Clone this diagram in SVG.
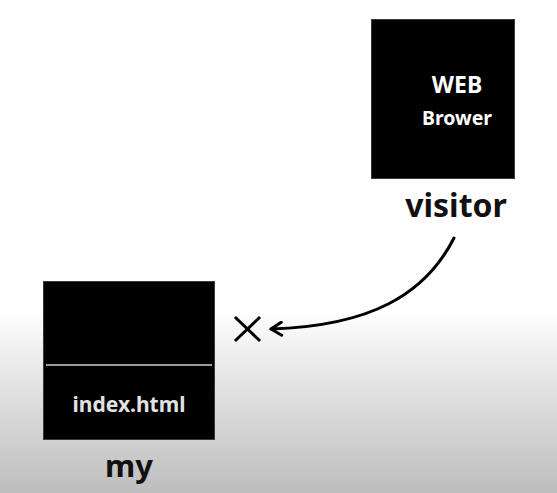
<svg xmlns="http://www.w3.org/2000/svg" width="557" height="493" viewBox="0 0 557 493">
  <defs>
    <linearGradient id="bg" x1="0" y1="0" x2="0" y2="493" gradientUnits="userSpaceOnUse">
      <stop offset="0" stop-color="#ffffff"/>
      <stop offset="0.63" stop-color="#ffffff"/>
      <stop offset="0.72" stop-color="#eeeeee"/>
      <stop offset="1" stop-color="#bdbdbd"/>
    </linearGradient>
    <marker id="arrow" viewBox="0 0 14 16" refX="12.5" refY="8" markerWidth="14" markerHeight="16" markerUnits="userSpaceOnUse" orient="auto">
      <path d="M2,1.5 L12.5,8 L2,14.5" fill="none" stroke="#000" stroke-width="3" stroke-linecap="round" stroke-linejoin="round"/>
    </marker>
    <style>
      .box { fill: #000; stroke: #3a3a3a; stroke-width: 1; }
      .inner { fill: #ffffff; font-family: "Noto Sans", "Open Sans", sans-serif; font-weight: bold; text-anchor: middle; }
      .label { fill: #111; font-family: "Noto Sans", "Open Sans", sans-serif; font-weight: bold; text-anchor: middle; }
      .edge { fill: none; stroke: #000; stroke-width: 3; stroke-linecap: round; }
    </style>
  </defs>

  <rect x="0" y="0" width="557" height="493" fill="url(#bg)"/>

  <!-- browser node -->
  <g id="browser">
    <rect class="box" x="371.5" y="19.5" width="143" height="159"/>
    <text class="inner" x="457" y="93" font-size="23">WEB</text>
    <text class="inner" x="457" y="125" font-size="19.5">Brower</text>
    <text class="label" x="456" y="217" font-size="32">visitor</text>
  </g>

  <!-- local file node -->
  <g id="local">
    <rect class="box" x="43.5" y="281.5" width="171" height="158"/>
    <line x1="46" y1="365" x2="212" y2="365" stroke="#cfcfcf" stroke-width="1.5"/>
    <text class="inner" x="129" y="412" font-size="21" style="fill:#e2e2e2">index.html</text>
    <text class="label" x="129" y="477" font-size="31">my</text>
  </g>

  <!-- blocked request -->
  <g id="connectors">
    <path class="edge" d="M454,238 C425,295 370,326 271,329" marker-end="url(#arrow)"/>
    <g id="blocked-mark" stroke="#000" stroke-width="3" stroke-linecap="square">
      <line x1="236" y1="318" x2="259" y2="340"/>
      <line x1="259" y1="318" x2="236" y2="340"/>
    </g>
  </g>
</svg>
